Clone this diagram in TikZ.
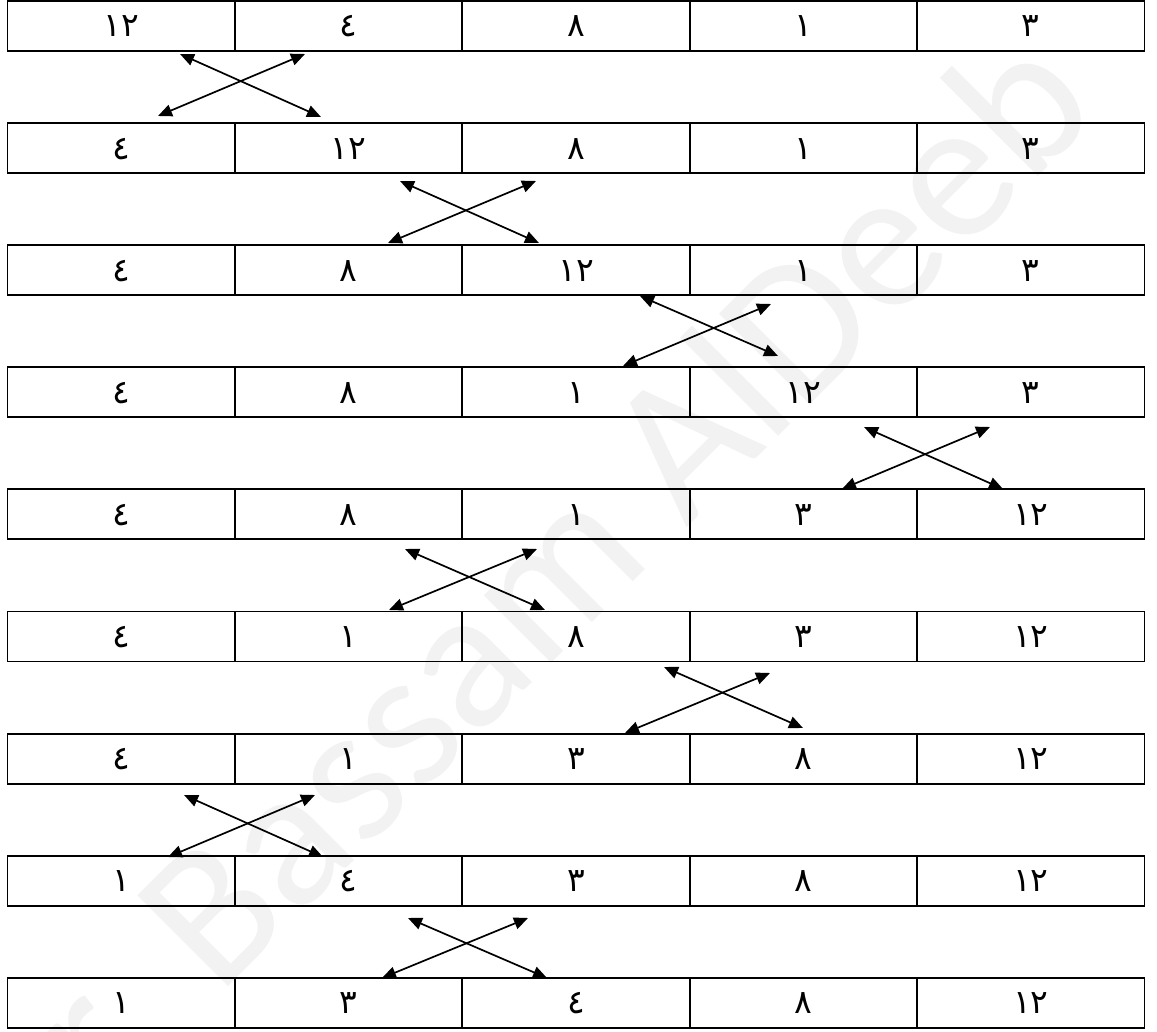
\documentclass[tikz,border=0pt]{standalone}
\usepackage{fontspec}
\usetikzlibrary{arrows.meta}
\newfontfamily\arabicfont[Script=Arabic]{DejaVu Sans}
\newfontfamily\wmfont{Carlito}
\begin{document}
\begin{tikzpicture}[x=1pt,y=-1pt,
  cell/.style={draw, line width=1.9pt, minimum width=227.4pt, minimum height=50pt,
    inner sep=0pt, outer sep=0pt, text height=26pt, text depth=4pt,
    font=\arabicfont\fontsize{33}{33}\selectfont},
  xchg/.style={line width=1.7pt, {Triangle[length=14pt,width=12pt]}-{Triangle[length=14pt,width=12pt]}},
  wmark/.style={text=black!5, font=\wmfont\fontsize{200}{200}\selectfont, inner sep=0pt}]
\useasboundingbox (0,0) rectangle (1157,1032);
\clip (0,0) rectangle (1157,1032);
% watermark
\node[wmark, rotate=45] (wm) at (512,606) {Dr. Bassam AlDeeb};
% cells
\foreach \r/\vals in {0/{١٢,٤,٨,١,٣},1/{٤,١٢,٨,١,٣},2/{٤,٨,١٢,١,٣},3/{٤,٨,١,١٢,٣},
  4/{٤,٨,١,٣,١٢},5/{٤,١,٨,٣,١٢},6/{٤,١,٣,٨,١٢},7/{١,٤,٣,٨,١٢},8/{١,٣,٤,٨,١٢}}{
  \foreach \v [count=\c from 0] in \vals {
    \node[cell] (c\r-\c) at ({7.5+227.4*(\c+0.5)},{26+122.1*\r}) {\v};
  }
}
% exchange arrows
\foreach \i/\ax/\ay/\bx/\by/\cx/\cy/\dx/\dy in {
  1/180/54/321/117/158/116/305/54,
  2/400/181/539/243/388/243/536/181,
  3/640/296/778/356/623/366/771/304,
  4/864/427/1003/489/842/489/990/427,
  5/405/549/545/610/389/610/537/549,
  6/664/667/803/728/625/733/770/673,
  7/184/795/323/857/168/857/315/795,
  8/408/918/547/978/382/978/528/918}{
  \coordinate (p\i tl) at (\ax,\ay);
  \coordinate (p\i br) at (\bx,\by);
  \coordinate (p\i bl) at (\cx,\cy);
  \coordinate (p\i tr) at (\dx,\dy);
  \draw[xchg] (p\i tl) -- (p\i br);
  \draw[xchg] (p\i bl) -- (p\i tr);
}
\end{tikzpicture}
\end{document}
